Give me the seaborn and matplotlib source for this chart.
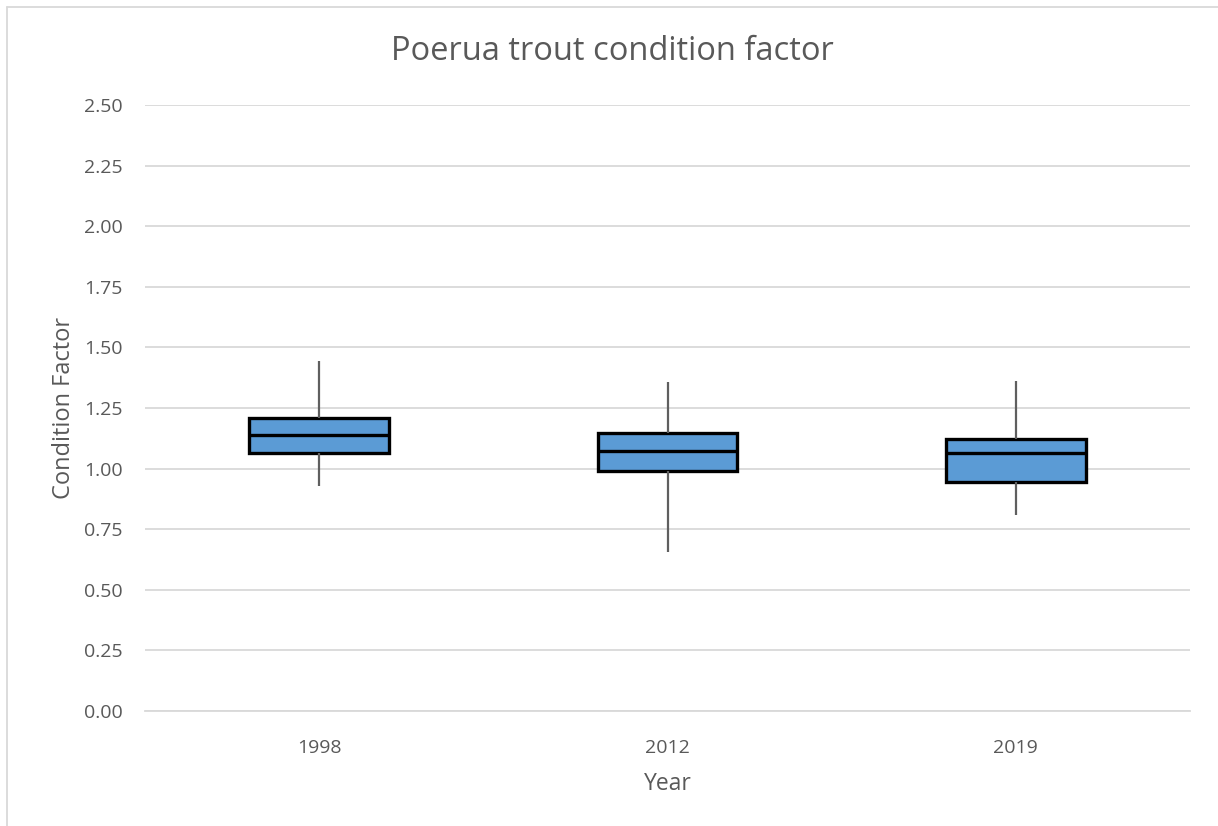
import pandas as pd
import matplotlib
matplotlib.use("Agg")
import matplotlib.pyplot as plt
import seaborn as sns
from matplotlib.lines import Line2D

# five-number summaries (min, q1, median, q3, max)
years = ["1998", "2012", "2019"]
min_vals = [0.93, 0.655, 0.81]
q1_vals = [1.064, 0.990, 0.943]
median_vals = [1.139, 1.073, 1.064]
q3_vals = [1.209, 1.147, 1.122]
max_vals = [1.445, 1.357, 1.362]

rows = []
for i, yr in enumerate(years):
    for v in [min_vals[i], q1_vals[i], median_vals[i], q3_vals[i], max_vals[i]]:
        rows.append({"Year": yr, "Condition Factor": v})
df = pd.DataFrame(rows)

sns.set_theme(style="white")
plt.rcParams['font.family'] = ['Open Sans', 'DejaVu Sans']
text_col = "#595959"

fig = plt.figure(figsize=(12.18, 8.26), dpi=100)
ax = fig.add_axes([145 / 1218, 1 - 711 / 826, (1190 - 145) / 1218, (711 - 105) / 826])

sns.boxplot(data=df, x="Year", y="Condition Factor", ax=ax, order=years,
            whis=(0, 100), width=0.40, showcaps=False, fliersize=0,
            color="#5B9BD5", saturation=1,
            boxprops=dict(facecolor="#5B9BD5", edgecolor="black", linewidth=2.4),
            medianprops=dict(color="black", linewidth=2.4),
            whiskerprops=dict(color="#5f5f5f", linewidth=1.6),
            zorder=3)

ax.set_ylim(0, 2.5)
ax.set_xlim(-0.5, 2.5)
ax.set_yticks([i * 0.25 for i in range(11)])
ax.set_yticklabels([f"{i * 0.25:.2f}" for i in range(11)])
ax.yaxis.grid(True, color="#d9d9d9", linewidth=1.3, zorder=0)
ax.set_axisbelow(True)
for s in ax.spines.values():
    s.set_visible(False)
ax.spines["bottom"].set_visible(True)
ax.spines["bottom"].set_color("#d9d9d9")
ax.spines["bottom"].set_linewidth(1.3)

ax.tick_params(axis="y", length=0, pad=16, labelsize=14, labelcolor=text_col)
ax.tick_params(axis="x", length=0, pad=20, labelsize=14, labelcolor=text_col)
ax.set_xlabel("Year", fontsize=16.5, color=text_col, labelpad=11)
ax.set_ylabel("Condition Factor", fontsize=17, color=text_col, labelpad=6)
fig.text(612 / 1218, 1 - 52 / 826, "Poerua trout condition factor", ha="center", va="center",
         fontsize=23.5, color=text_col)

# chart frame (left and top edges visible)
fig.add_artist(Line2D([7 / 1218, 7 / 1218], [0, 1 - 7 / 826], transform=fig.transFigure,
                      color="#d9d9d9", linewidth=1.3))
fig.add_artist(Line2D([7 / 1218, 1], [1 - 7 / 826, 1 - 7 / 826], transform=fig.transFigure,
                      color="#d9d9d9", linewidth=1.3))

fig.savefig("out.png", dpi=100)
